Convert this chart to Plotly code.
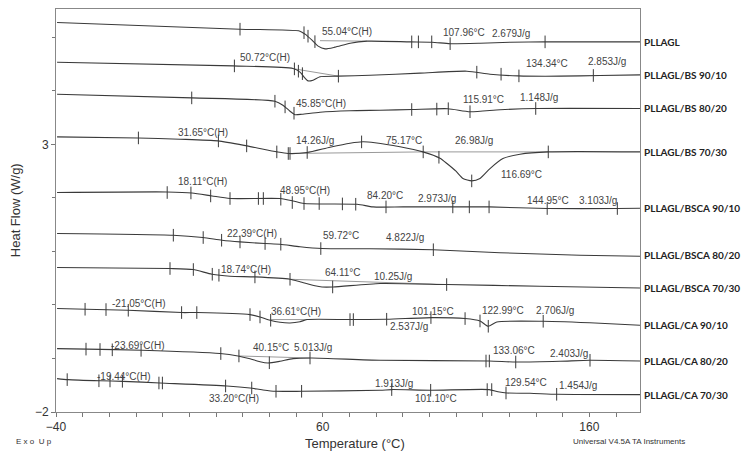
import plotly.graph_objects as go

# DSC heat-flow traces (temperature in °C, heat flow in W/g)
samples = ["PLLAGL", "PLLAGL/BS 90/10", "PLLAGL/BS 80/20", "PLLAGL/BS 70/30",
           "PLLAGL/BSCA 90/10", "PLLAGL/BSCA 80/20", "PLLAGL/BSCA 70/30",
           "PLLAGL/CA 90/10", "PLLAGL/CA 80/20", "PLLAGL/CA 70/30"]
label_hf = [4.910, 4.293, 3.671, 2.860, 1.813, 0.942, 0.318, -0.380, -1.053, -1.675]

t_pllagl = [-39.6, 29.0, 51.5, 53.4, 56.0, 58.3, 60.9, 64.6, 70.3, 76.6, 92.8, 101.0, 107.8, 119.0, 130.3, 143.4, 179]
hf_pllagl = [5.278, 5.153, 5.116, 5.060, 4.948, 4.836, 4.785, 4.817, 4.891, 4.929, 4.916, 4.910, 4.882, 4.891, 4.910, 4.916, 4.916]
mt_pllagl = [29.0, 53.0, 54.5, 57.1, 93.4, 95.9, 100.9, 107.8, 143.4]
mhf_pllagl = [5.153, 5.088, 5.022, 4.920, 4.916, 4.916, 4.916, 4.882, 4.916]

t_bs9010 = [-39.6, 26.4, 48.9, 51.5, 53.4, 54.5, 56.4, 59.0, 65.75, 77.75, 96.5, 114.1, 122.75, 133.25, 149, 164, 179]
hf_bs9010 = [4.536, 4.467, 4.419, 4.350, 4.237, 4.187, 4.200, 4.265, 4.275, 4.293, 4.331, 4.368, 4.312, 4.280, 4.275, 4.288, 4.299]
mt_bs9010 = [26.9, 49.4, 50.9, 52.4, 65.9, 117.8, 126.9, 133.6, 161.5]
mhf_bs9010 = [4.467, 4.411, 4.368, 4.322, 4.275, 4.350, 4.312, 4.280, 4.288]

t_bs8020 = [-39.6, 11, 42.1, 45.1, 47.75, 49.6, 52.25, 59, 70.25, 81.5, 93.5, 107, 115.25, 126.5, 140, 179]
hf_bs8020 = [3.938, 3.869, 3.807, 3.733, 3.620, 3.555, 3.564, 3.602, 3.630, 3.639, 3.652, 3.667, 3.611, 3.648, 3.671, 3.671]
mt_bs8020 = [10.9, 42.1, 45.9, 49.25, 93.4, 102.8, 107.1, 115.25, 139.9]
mhf_bs8020 = [3.869, 3.807, 3.701, 3.583, 3.652, 3.660, 3.667, 3.611, 3.671]

t_bs7030 = [-39.6, -9.25, 6.5, 20.75, 31.6, 42.9, 47, 54.1, 62.75, 70.25, 75.1, 79.6, 89, 97.6, 104, 106.6,
            110, 112.6, 115.9, 119, 122.75, 127.6, 134, 144.5, 179]
hf_bs7030 = [3.140, 3.121, 3.097, 3.065, 2.972, 2.860, 2.830, 2.849, 2.948, 3.022, 3.050, 3.032, 2.957, 2.860, 2.742, 2.643,
             2.499, 2.363, 2.318, 2.363, 2.549, 2.736, 2.817, 2.860, 2.860]
mt_bs7030 = [-9.1, 20.9, 31.5, 42.8, 47.1, 47.75, 54.2, 74.6, 97.7, 103.6, 115.9, 144.6]
mhf_bs7030 = [3.121, 3.065, 2.972, 2.860, 2.830, 2.830, 2.849, 3.047, 2.860, 2.760, 2.318, 2.860]

t_bsca9010 = [-39.6, 1.6, 11, 18.5, 25.25, 44, 48.9, 53, 72.9, 78.9, 90.1, 108.9, 122.4, 144.1, 170.4, 179]
hf_bsca9010 = [2.101, 2.112, 2.093, 2.037, 1.989, 1.989, 1.944, 1.895, 1.882, 1.832, 1.832, 1.832, 1.832, 1.802, 1.802, 1.807]
mt_bsca9010 = [1.7, 10.6, 18, 25.25, 35.9, 37.75, 44.3, 48.6, 53, 58.7, 67.4, 72.4, 83.75, 108.8, 115, 122.4, 144.2, 170.5]
mhf_bsca9010 = [2.101, 2.093, 2.037, 1.989, 1.989, 1.989, 1.976, 1.914, 1.895, 1.895, 1.888, 1.882, 1.832, 1.832, 1.832,
                1.832, 1.802, 1.802]

t_bsca8020 = [-39.6, 3.9, 15.1, 22.25, 29, 38.4, 44, 51.5, 59.75, 77.75, 101.4, 126.5, 156.5, 179]
hf_bsca8020 = [1.335, 1.303, 1.260, 1.209, 1.178, 1.148, 1.135, 1.088, 1.054, 1.050, 1.032, 0.976, 0.929, 0.910]
mt_bsca8020 = [4, 15.2, 22.1, 29, 38.4, 44.3, 59.3, 101.5]
mhf_bsca8020 = [1.303, 1.260, 1.209, 1.178, 1.148, 1.135, 1.054, 1.032]

t_bsca7030 = [-39.6, 2.75, 11.4, 18.5, 25.25, 34.6, 47.75, 51.5, 57.1, 59.75, 63.9, 81.5, 106.6, 141.5, 179]
hf_bsca7030 = [0.699, 0.681, 0.662, 0.574, 0.537, 0.524, 0.480, 0.434, 0.359, 0.336, 0.336, 0.400, 0.381, 0.350, 0.318]
mt_bsca7030 = [2.75, 11.5, 18.6, 21.1, 34.6, 47.75, 63.75, 106.5]
mhf_bsca7030 = [0.681, 0.662, 0.574, 0.555, 0.524, 0.480, 0.336, 0.381]

t_ca9010 = [-39.6, -28.75, -13, 7.25, 12.9, 32.75, 36.5, 40.25, 44, 47.75, 51.5, 54.1, 70.25, 84.1, 101, 113.4,
            119, 122.1, 125.3, 142.6, 164, 179]
hf_ca9010 = [-0.067, -0.080, -0.099, -0.142, -0.142, -0.180, -0.224, -0.286, -0.324, -0.337, -0.314, -0.273, -0.273,
             -0.267, -0.236, -0.254, -0.299, -0.398, -0.318, -0.305, -0.342, -0.380]
mt_ca9010 = [-29.1, -21.25, -12.9, 7.1, 12.8, 32.75, 36.5, 40.5, 70.25, 71.5, 84, 100.6, 113.4, 119, 122.1, 142.7]
mhf_ca9010 = [-0.080, -0.086, -0.099, -0.142, -0.142, -0.180, -0.224, -0.286, -0.273, -0.273, -0.267, -0.236, -0.254,
              -0.299, -0.398, -0.305]

t_ca8020 = [-39.6, -28.4, -7.75, 21.5, 28.25, 32.75, 36.5, 39.5, 44, 48.9, 56, 81.5, 122.4, 132.5, 149, 160.25, 179]
hf_ca8020 = [-0.815, -0.825, -0.847, -0.908, -0.953, -1.006, -1.062, -1.084, -1.052, -1.002, -0.991, -1.034, -1.047,
             -1.066, -1.052, -1.034, -1.047]
mt_ca8020 = [-28.75, -23.5, -18.9, -8.1, 21.8, 28.6, 40, 55.25, 121.25, 122.5, 132.4, 160.25]
mhf_ca8020 = [-0.825, -0.832, -0.838, -0.848, -0.908, -0.953, -1.080, -0.991, -1.047, -1.047, -1.066, -1.034]

t_ca7030 = [-39.6, -35.5, -23.5, -14.9, -1, 24.1, 32.75, 37.25, 42.1, 52.25, 81.5, 86, 100.6, 122.4, 125.75, 129.1,
            137.75, 147.9, 179]
hf_ca7030 = [-1.376, -1.395, -1.417, -1.427, -1.458, -1.514, -1.552, -1.585, -1.613, -1.613, -1.594, -1.581, -1.594,
             -1.581, -1.622, -1.645, -1.650, -1.669, -1.675]
mt_ca7030 = [-35.8, -23.9, -19.75, -15.1, -1.4, -0.1, 23.6, 33.4, 42.5, 52.1, 85.9, 100.5, 121.7, 123.4, 128.75, 147.75]
mhf_ca7030 = [-1.395, -1.417, -1.420, -1.427, -1.458, -1.458, -1.514, -1.552, -1.613, -1.613, -1.581, -1.594, -1.581,
              -1.581, -1.645, -1.669]

# integration baselines drawn by the analysis software
base_t = [[59.0, 76.6], [49.4, 65.9], [47.1, 97.7, 144.6], [47.75, 106.5], [40.5, 54.1], [28.6, 55.25]]
base_hf = [[4.938, 4.929], [4.411, 4.275], [2.830, 2.860, 2.860], [0.480, 0.381], [-0.273, -0.273], [-0.953, -0.991]]

# analysis result labels
ann_text = ["55.04°C(H)", "107.96°C", "2.679J/g", "50.72°C(H)", "134.34°C", "2.853J/g", "45.85°C(H)", "115.91°C",
            "1.148J/g", "31.65°C(H)", "14.26J/g", "75.17°C", "26.98J/g", "116.69°C", "18.11°C(H)", "48.95°C(H)",
            "84.20°C", "2.973J/g", "144.95°C", "3.103J/g", "22.39°C(H)", "59.72°C", "4.822J/g", "18.74°C(H)",
            "64.11°C", "10.25J/g", "-21.05°C(H)", "36.61°C(H)", "101.15°C", "2.537J/g", "122.99°C", "2.706J/g",
            "-23.69°C(H)", "40.15°C", "5.013J/g", "133.06°C", "2.403J/g", "-19.44°C(H)", "33.20°C(H)", "1.913J/g",
            "101.10°C", "129.54°C", "1.454J/g"]
ann_t = [59, 104.4, 122.75, 28.25, 135.5, 158.75, 49.25, 111.75, 133.4, 5, 49.25, 83, 108.75, 126.2, 5, 43.1,
         75.9, 94.9, 135.9, 155.5, 23.4, 59.4, 83, 21.1, 60.2, 78.4, -19.75, 40, 92.75, 84.6, 119, 139.25,
         -20.1, 33.1, 48.6, 123, 144.6, -25.4, 16.5, 79, 93.75, 127.5, 148]
ann_hf = [5.116, 5.084, 5.078, 4.630, 4.512, 4.555, 3.764, 3.839, 3.882, 3.215, 3.078, 3.078, 3.078, 2.437, 2.299,
          2.131, 2.050, 1.989, 1.957, 1.957, 1.334, 1.303, 1.260, 0.667, 0.605, 0.536, 0.026, -0.131, -0.131, -0.398,
          -0.099, -0.099, -0.753, -0.804, -0.804, -0.860, -0.908, -1.333, -1.750, -1.469, -1.750, -1.458, -1.501]

curves = [
    (t_pllagl, hf_pllagl, mt_pllagl, mhf_pllagl),
    (t_bs9010, hf_bs9010, mt_bs9010, mhf_bs9010),
    (t_bs8020, hf_bs8020, mt_bs8020, mhf_bs8020),
    (t_bs7030, hf_bs7030, mt_bs7030, mhf_bs7030),
    (t_bsca9010, hf_bsca9010, mt_bsca9010, mhf_bsca9010),
    (t_bsca8020, hf_bsca8020, mt_bsca8020, mhf_bsca8020),
    (t_bsca7030, hf_bsca7030, mt_bsca7030, mhf_bsca7030),
    (t_ca9010, hf_ca9010, mt_ca9010, mhf_ca9010),
    (t_ca8020, hf_ca8020, mt_ca8020, mhf_ca8020),
    (t_ca7030, hf_ca7030, mt_ca7030, mhf_ca7030),
]

LINE = "#3a3a3a"
TEXT = "#444444"
FONT = "Liberation Sans, Arial, sans-serif"

fig = go.Figure()

for bt, bh in zip(base_t, base_hf):
    fig.add_trace(go.Scatter(x=bt, y=bh, mode="lines", line=dict(color="#9a9a9a", width=1),
                             showlegend=False, hoverinfo="skip"))

for name, (t, hf, mt, mhf) in zip(samples, curves):
    fig.add_trace(go.Scatter(
        x=t, y=hf, mode="lines", name=name,
        line=dict(color=LINE, width=1.1, shape="spline", smoothing=0.6),
        showlegend=False,
    ))
    # analysis cursor marks
    fig.add_trace(go.Scatter(
        x=mt, y=mhf, mode="markers",
        marker=dict(symbol="line-ns", size=9, line=dict(color=LINE, width=1)),
        showlegend=False, hoverinfo="skip",
    ))

for txt, t, hf in zip(ann_text, ann_t, ann_hf):
    fig.add_annotation(x=t, y=hf, text=txt, showarrow=False, xanchor="left", yanchor="middle",
                       font=dict(family=FONT, size=10, color=TEXT))

for name, hf in zip(samples, label_hf):
    fig.add_annotation(x=1.003, xref="paper", y=hf, yref="y", text="<b>" + name + "</b>",
                       showarrow=False, xanchor="left", yanchor="middle",
                       font=dict(family="Lato, Liberation Sans, sans-serif", size=10, color="#222222"))

# axis titles and footer text
fig.add_annotation(x=0.512, xref="paper", y=-0.078, yref="paper", text="Temperature (°C)", showarrow=False,
                   xanchor="center", yanchor="middle", font=dict(family=FONT, size=13, color="#333333"))
fig.add_annotation(x=-0.069, xref="paper", y=0.5, yref="paper", text="Heat Flow (W/g)", showarrow=False,
                   textangle=-90, xanchor="center", yanchor="middle",
                   font=dict(family=FONT, size=13, color="#333333"))
fig.add_annotation(x=-0.072, xref="paper", y=-0.074, yref="paper", text="E x o  U p", showarrow=False,
                   xanchor="left", yanchor="middle", font=dict(family=FONT, size=8, color="#333333"))
fig.add_annotation(x=0.882, xref="paper", y=-0.073, yref="paper", text="Universal V4.5A TA Instruments",
                   showarrow=False, xanchor="left", yanchor="middle",
                   font=dict(family=FONT, size=8, color="#333333"))

# the page body adds an 8px offset, so the figure is sized to the remaining window
fig.update_layout(
    width=743, height=448,
    margin=dict(l=48, r=111, t=1, b=44, autoexpand=False),
    paper_bgcolor="white", plot_bgcolor="white",
    showlegend=False,
    font=dict(family=FONT, color="#333333"),
)

fig.update_xaxes(
    range=[-40, 179], tick0=-40, dtick=100, automargin=False,
    ticks="outside", ticklen=4, tickcolor="#777777",
    minor=dict(dtick=10, ticks="outside", ticklen=4, tickcolor="#777777"),
    showgrid=False, zeroline=False,
    showline=True, linecolor="#888888", linewidth=1, mirror=True,
    tickfont=dict(size=12, color="#333333"),
)
fig.update_yaxes(
    range=[-2, 5.53], tick0=-2, dtick=5, automargin=False,
    ticks="outside", ticklen=4, tickcolor="#777777",
    minor=dict(dtick=1, ticks="outside", ticklen=3, tickcolor="#777777"),
    showgrid=False, zeroline=False,
    showline=True, linecolor="#888888", linewidth=1, mirror=True,
    tickfont=dict(size=12, color="#333333"),
)

fig.write_html("out.html")
